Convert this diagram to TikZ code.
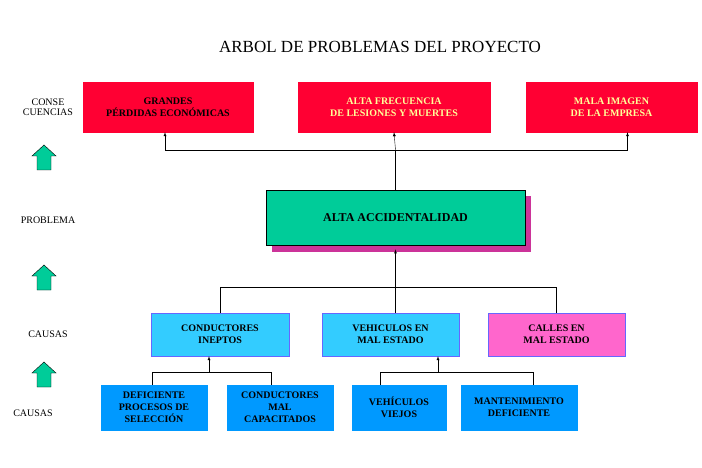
\documentclass[tikz,border=0pt]{standalone}
\usepackage{fontspec}
\setmainfont{Liberation Serif}
\usetikzlibrary{positioning,arrows}
\definecolor{conred}{RGB}{255,0,51}
\definecolor{probgreen}{RGB}{0,204,153}
\definecolor{shadowmag}{RGB}{204,51,153}
\definecolor{causecyan}{RGB}{51,204,255}
\definecolor{causepink}{RGB}{255,102,204}
\definecolor{subblue}{RGB}{0,153,255}
\definecolor{softyellow}{RGB}{255,255,153}
\tikzset{
  box/.style={draw, rectangle, align=center, font=\fontsize{10}{12}\selectfont\bfseries, inner sep=0pt},
  conse/.style={box, draw=conred, fill=conred, minimum height=50pt},
  cause/.style={box, draw=blue!60, fill=causecyan, minimum height=43pt},
  sub/.style={box, draw=subblue, fill=subblue, minimum height=45pt},
  side/.style={font=\fontsize{10}{12}\selectfont, align=center},
  link/.style={thin},
  up/.style={-latex, thin}
}
\begin{document}
\begin{tikzpicture}[x=1pt,y=-1pt]
                \useasboundingbox (0,0) rectangle (702,468);

                % title
                \node (title) at (380,47) {\fontsize{17}{20}\selectfont ARBOL DE PROBLEMAS DEL PROYECTO};

                % side labels
                \node[side] (lconse) at (48,107) {CONSE\\[-2pt]CUENCIAS};
                \node[side] (lprob) at (48,220) {PROBLEMA};
                \node[side] (lcaus) at (48,334) {CAUSAS};
                \node[side] (lsub) at (33,413) {CAUSAS};

                % green arrows
                \foreach \y in {145,265,362} {
                    \draw[fill=probgreen, thin] (37,\y+25) -- (37,\y+11) -- (32,\y+11) -- (44,\y) -- (56,\y+11) -- (51,\y+11) -- (51,\y+25) -- cycle;
                }

                % consecuencias
                \node[conse, minimum width=170pt] (perdidas) at (168,107) {GRANDES\\PÉRDIDAS ECONÓMICAS};
                \node[conse, minimum width=192pt, text=softyellow] (lesiones) at (394,107) {ALTA FRECUENCIA\\DE LESIONES Y MUERTES};
                \node[conse, minimum width=171pt, text=softyellow] (imagen) at (611.5,107) {MALA IMAGEN\\DE LA EMPRESA};

                % problema with shadow
                \fill[shadowmag] (272,196) rectangle (531,252);
                \node[box, fill=probgreen, draw=black, thick, minimum width=259pt, minimum height=55pt, font=\fontsize{12}{14}\selectfont\bfseries] (problema) at (395.5,217.5) {ALTA ACCIDENTALIDAD};

                % causas
                \node[cause, minimum width=138pt] (ineptos) at (220,334.5) {CONDUCTORES\\INEPTOS};
                \node[cause, minimum width=137pt] (vehiculos) at (390.5,334.5) {VEHICULOS EN\\MAL ESTADO};
                \node[cause, fill=causepink, minimum width=137pt] (calles) at (556.5,334.5) {CALLES EN\\MAL ESTADO};

                % subcausas
                \node[sub, minimum width=106pt] (seleccion) at (154,407.5) {DEFICIENTE\\PROCESOS DE\\SELECCIÓN};
                \node[sub, minimum width=106pt] (capacitados) at (280,407.5) {CONDUCTORES\\MAL\\CAPACITADOS};
                \node[sub, minimum width=94pt] (viejos) at (399,407.5) {VEHÍCULOS\\VIEJOS};
                \node[sub, minimum width=116pt] (mantenimiento) at (519,407.5) {MANTENIMIENTO\\DEFICIENTE};

                % connectors
                \coordinate (hub1) at (problema.north |- 0,150);
                \draw[link] (problema.north) -- (hub1);
                \draw[up] (hub1) -- (lesiones.south);
                \draw[up] (hub1) -| ([xshift=-3pt]perdidas.south);
                \draw[up] (hub1) -| ([xshift=16pt]imagen.south);

                \coordinate (hub2) at (problema.south |- 0,287);
                \draw[up] (hub2) -- ([yshift=-4pt]problema.south -| hub2);
                \draw[link] (hub2) -| (ineptos.north);
                \draw[link] (hub2) -- (vehiculos.north -| hub2);
                \draw[link] (hub2) -| (calles.north);

                \coordinate (hub3) at (209,372);
                \draw[up] (hub3) -- (hub3 |- ineptos.south);
                \draw[link] (hub3) -| ([xshift=-2pt]seleccion.north);
                \draw[link] (hub3) -| ([xshift=-9pt]capacitados.north);

                \coordinate (hub4) at (438,372);
                \draw[up] (hub4) -- (hub4 |- vehiculos.south);
                \draw[link] (hub4) -| ([xshift=-19pt]viejos.north);
                \draw[link] (hub4) -| ([xshift=14pt]mantenimiento.north);
\end{tikzpicture}
\end{document}
